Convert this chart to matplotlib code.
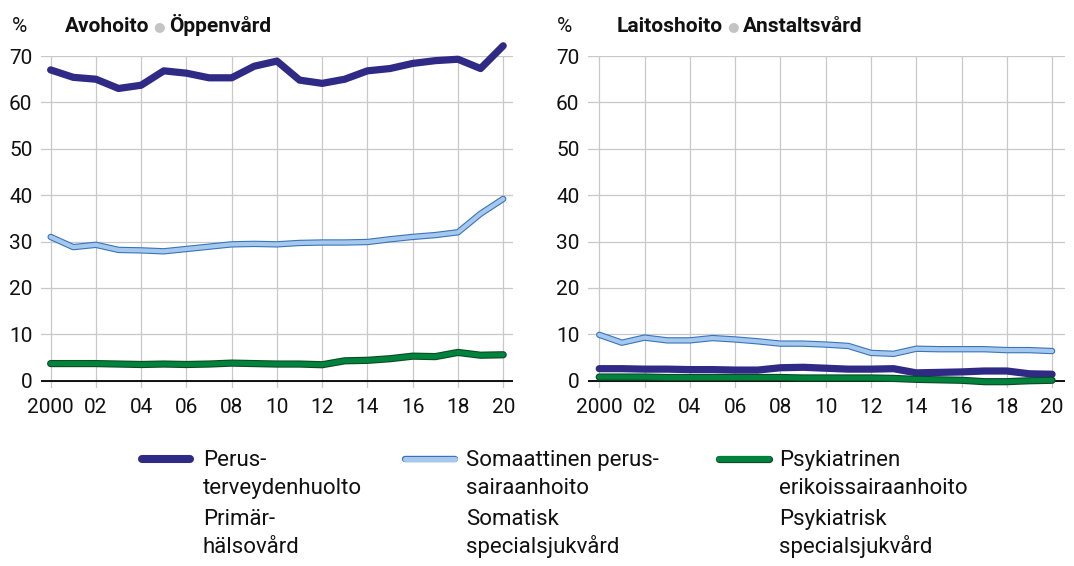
import numpy as np
import matplotlib
matplotlib.use("Agg")
import matplotlib.pyplot as plt
import matplotlib.patheffects as pe
from matplotlib.lines import Line2D

plt.rcParams["font.family"] = ["Roboto", "DejaVu Sans"]

# --------------------------------------------------------------------------- #
# data (share of costs, %)
# --------------------------------------------------------------------------- #
years = list(range(2000, 2021))

avo_perus = [67.0, 65.4, 65.0, 63.0, 63.7, 66.8, 66.3, 65.3, 65.3, 67.8, 68.9,
             64.8, 64.1, 65.0, 66.8, 67.3, 68.4, 69.0, 69.3, 67.3, 72.2]
avo_somaat = [31.0, 28.8, 29.3, 28.2, 28.1, 27.9, 28.4, 28.9, 29.4, 29.5, 29.4,
              29.7, 29.8, 29.8, 29.9, 30.5, 31.0, 31.4, 32.0, 36.0, 39.2]
avo_psyk = [3.7, 3.7, 3.7, 3.6, 3.5, 3.6, 3.5, 3.6, 3.8, 3.7, 3.6,
            3.6, 3.45, 4.3, 4.4, 4.75, 5.3, 5.2, 6.1, 5.5, 5.6]

lai_perus = [2.6, 2.6, 2.5, 2.5, 2.4, 2.4, 2.3, 2.3, 2.8, 2.9, 2.7,
             2.5, 2.5, 2.6, 1.7, 1.8, 1.9, 2.1, 2.1, 1.5, 1.4]
lai_somaat = [9.9, 8.2, 9.3, 8.7, 8.7, 9.2, 8.9, 8.5, 8.0, 8.0, 7.8,
              7.5, 6.0, 5.8, 6.9, 6.8, 6.8, 6.8, 6.6, 6.6, 6.4]
lai_psyk = [0.8, 0.8, 0.8, 0.7, 0.7, 0.7, 0.7, 0.7, 0.7, 0.6, 0.6,
            0.6, 0.6, 0.5, 0.3, 0.2, 0.1, -0.2, -0.2, 0.0, 0.1]

xticks = list(range(2000, 2021, 2))
xticklabels = ["2000", "02", "04", "06", "08", "10", "12", "14", "16", "18", "20"]
yticks = [0, 10, 20, 30, 40, 50, 60, 70]

titles = [("Avohoito", "Öppenvård"), ("Laitoshoito", "Anstaltsvård")]
legend_lines = [
    ["Perus-", "terveydenhuolto", "Primär-", "hälsovård"],
    ["Somaattinen perus-", "sairaanhoito", "Somatisk", "specialsjukvård"],
    ["Psykiatrinen", "erikoissairaanhoito", "Psykiatrisk", "specialsjukvård"],
]

# --------------------------------------------------------------------------- #
# styles
# --------------------------------------------------------------------------- #
NAVY = "#2f2a85"
LBLUE, LBLUE_E = "#a5c8ee", "#3a74b8"
GREEN, GREEN_E = "#00843d", "#0c4a25"
GRID = "#c8c8c8"
TXT = "#111111"

styles = [
    dict(color=NAVY, lw=5.2, pe=None),
    dict(color=LBLUE, lw=3.0, pe=[pe.Stroke(linewidth=4.6, foreground=LBLUE_E), pe.Normal()]),
    dict(color=GREEN, lw=3.6, pe=[pe.Stroke(linewidth=5.2, foreground=GREEN_E), pe.Normal()]),
]

W, H = 1074, 566
fig = plt.figure(figsize=(W / 100, H / 100), dpi=100)

def fx(px): return px / W
def fy(py): return 1 - py / H

top, bot = 56, 387.7
axL = fig.add_axes([fx(40.7), fy(bot), fx(512.7) - fx(40.7), fy(top) - fy(bot)])
axR = fig.add_axes([fx(587.7), fy(bot), fx(1065) - fx(587.7), fy(top) - fy(bot)])

panels = [
    (axL, (1999.56, 2020.42), [avo_perus, avo_somaat, avo_psyk]),
    (axR, (1999.49, 2020.57), [lai_perus, lai_somaat, lai_psyk]),
]

for ax, xl, series in panels:
    ax.set_xlim(*xl)
    ax.set_ylim(-1.5, 70)
    for s in ax.spines.values():
        s.set_visible(False)
    ax.set_xticks(xticks)
    ax.set_xticklabels(xticklabels)
    ax.set_yticks(yticks)
    ax.tick_params(length=0, labelsize=15, colors=TXT)
    ax.tick_params(axis="y", pad=6)
    ax.tick_params(axis="x", pad=7.5)
    for lab in ax.get_yticklabels():
        lab.set_verticalalignment("center_baseline")
    ax.grid(True, color=GRID, lw=0.9, zorder=0)
    ax.set_axisbelow(True)
    ax.axhline(0, color="black", lw=1.3, zorder=2)
    # draw order: green, navy, light blue
    for i in (2, 0, 1):
        st = styles[i]
        ln, = ax.plot(years, series[i], color=st["color"], lw=st["lw"],
                      solid_capstyle="round", solid_joinstyle="round",
                      clip_on=False, zorder=3 + i)
        if st["pe"]:
            ln.set_path_effects(st["pe"])

axL.annotate(f"{avo_perus[-1]:.1f}".replace(".", ","), (years[-1], avo_perus[-1]),
             xytext=(0, 16), textcoords="offset pixels", ha="center", va="center",
             fontsize=15, color=TXT)

# panel titles
for (fi, sv), pct_x, tx in [(titles[0], 12, 65), (titles[1], 557, 617)]:
    fig.text(fx(pct_x), fy(26), "%", fontsize=15, va="center", ha="left", color=TXT)
    t1 = fig.text(fx(tx), fy(26), fi, fontsize=15, fontweight="bold",
                  va="center", ha="left", color=TXT)
    plt.annotate("\u25cf", xy=(1, 0), xycoords=t1, xytext=(3, 1.8),
                 textcoords="offset points", fontsize=9.5, color="#c4c4c4",
                 va="bottom", ha="left", annotation_clip=False)
    plt.annotate(sv, xy=(1, 0), xycoords=t1, xytext=(14, 0),
                 textcoords="offset points", fontsize=15, fontweight="bold",
                 va="bottom", ha="left", annotation_clip=False, color=TXT)

# legend
leg_x = [(142, 190, 203), (405, 455, 466), (719, 769, 779)]
baselines = [466, 494, 525, 553]
for (x0, x1, xt), st, lines in zip(leg_x, styles, legend_lines):
    ln = Line2D([fx(x0), fx(x1)], [fy(459), fy(459)], transform=fig.transFigure,
                color=st["color"], lw=st["lw"] + 0.6, solid_capstyle="round")
    if st["pe"]:
        ln.set_path_effects(st["pe"])
    fig.add_artist(ln)
    for txt, yb in zip(lines, baselines):
        fig.text(fx(xt), fy(yb), txt, fontsize=16, va="baseline", ha="left", color=TXT)

fig.savefig("out.png", dpi=100)
